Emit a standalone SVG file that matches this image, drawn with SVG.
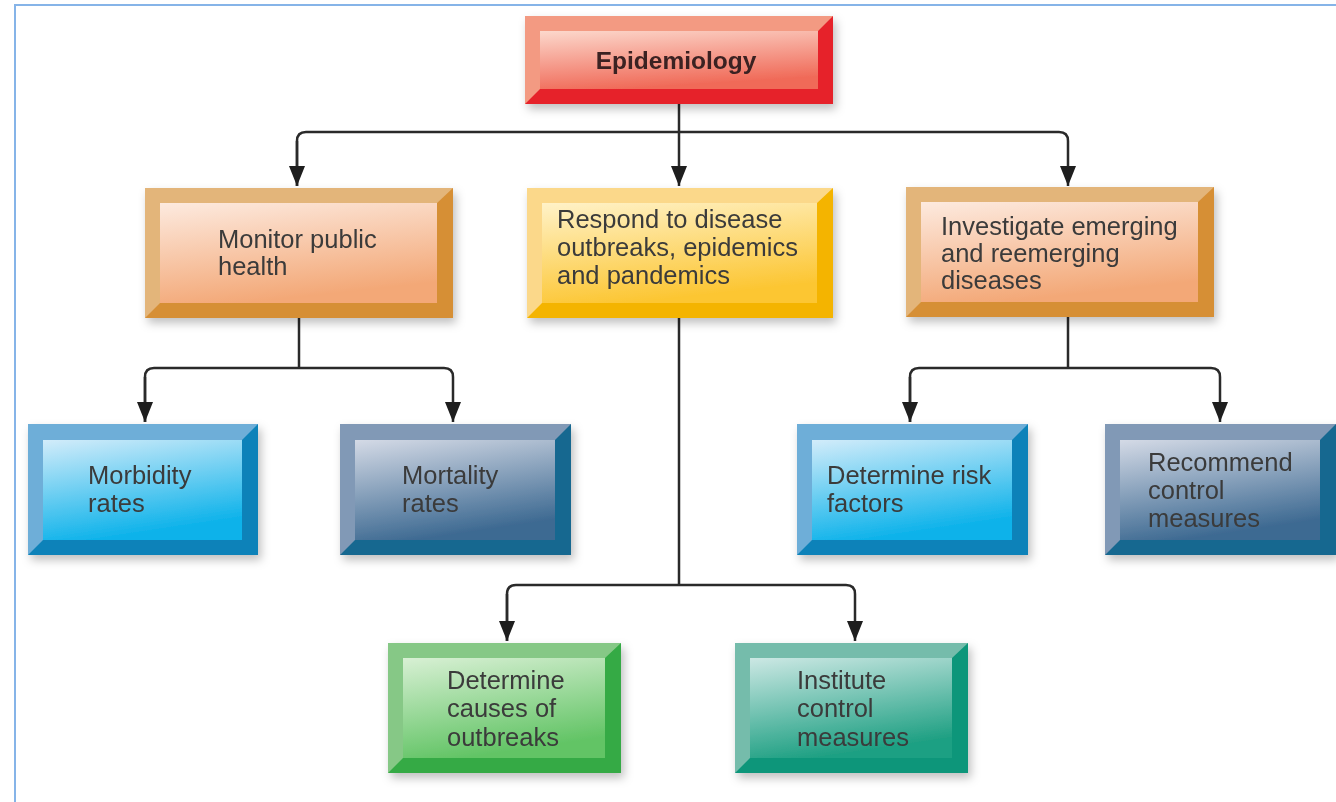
<svg xmlns="http://www.w3.org/2000/svg" width="1336" height="802" viewBox="0 0 1336 802">
<defs>
<style>
.t{font-family:"Liberation Sans",Arial,sans-serif;font-size:25.5px;fill:#3a3a3a}
.tb{font-family:"Liberation Sans",Arial,sans-serif;font-size:24.5px;font-weight:bold;fill:#3a2222}
.c{fill:none;stroke:#2a2a2a;stroke-width:2.5}
</style>
<filter id="sh" x="-10%" y="-10%" width="130%" height="140%"><feDropShadow dx="3" dy="5" stdDeviation="5" flood-color="#000" flood-opacity="0.25"/></filter>
<marker id="ah" viewBox="0 0 20 16" refX="20" refY="8" markerWidth="20" markerHeight="16" markerUnits="userSpaceOnUse" orient="auto"><path d="M0,0 L20,8 L0,16 z" fill="#1e1e1e"/></marker>
<linearGradient id="gRed" x1="0" y1="0" x2="0.3" y2="1"><stop offset="0" stop-color="#fcd8cc"/><stop offset="1" stop-color="#f06a58"/></linearGradient>
<linearGradient id="gOr" x1="0" y1="0" x2="0.3" y2="1"><stop offset="0" stop-color="#fdeadf"/><stop offset="1" stop-color="#f3a877"/></linearGradient>
<linearGradient id="gYe" x1="0" y1="0" x2="0.3" y2="1"><stop offset="0" stop-color="#fff2c8"/><stop offset="1" stop-color="#fcc633"/></linearGradient>
<linearGradient id="gBl" x1="0" y1="0" x2="0.3" y2="1"><stop offset="0" stop-color="#d2ecfa"/><stop offset="1" stop-color="#0cb2ea"/></linearGradient>
<linearGradient id="gSl" x1="0" y1="0" x2="0.3" y2="1"><stop offset="0" stop-color="#d4dae6"/><stop offset="1" stop-color="#3e6a92"/></linearGradient>
<linearGradient id="gGr" x1="0" y1="0" x2="0.3" y2="1"><stop offset="0" stop-color="#d8f0d4"/><stop offset="1" stop-color="#62c465"/></linearGradient>
<linearGradient id="gTe" x1="0" y1="0" x2="0.3" y2="1"><stop offset="0" stop-color="#cce8e4"/><stop offset="1" stop-color="#1fa083"/></linearGradient>
</defs>
<rect x="0" y="0" width="1336" height="802" fill="#ffffff"/>
<path d="M15 802 V5 H1336" fill="none" stroke="#86b4e8" stroke-width="2"/>

<g id="connectors">
<path class="c" d="M679 104 V132"/>
<path class="c" marker-end="url(#ah)" d="M297 186 V141 Q297 132 306 132 H1059 Q1068 132 1068 141 V186"/>
<path class="c" marker-end="url(#ah)" d="M679 132 V186"/>
<path class="c" marker-end="url(#ah)" d="M297 141 V186"/>
<path class="c" d="M299 318 V368"/>
<path class="c" marker-end="url(#ah)" d="M145 422 V377 Q145 368 154 368 H444 Q453 368 453 377 V422"/>
<path class="c" marker-end="url(#ah)" d="M145 377 V422"/>
<path class="c" d="M679 318 V585"/>
<path class="c" marker-end="url(#ah)" d="M507 641 V594 Q507 585 516 585 H846 Q855 585 855 594 V641"/>
<path class="c" marker-end="url(#ah)" d="M507 594 V641"/>
<path class="c" d="M1068 317 V368"/>
<path class="c" marker-end="url(#ah)" d="M910 422 V377 Q910 368 919 368 H1211 Q1220 368 1220 377 V422"/>
<path class="c" marker-end="url(#ah)" d="M910 377 V422"/>
</g>

<g id="epidemiology" filter="url(#sh)">
<rect x="525" y="16" width="308" height="88" fill="#f39a82"/>
<polygon points="833,16 833,104 525,104 540,89 818,89 818,31" fill="#e6202a"/>
<rect x="540" y="31" width="278" height="58" fill="url(#gRed)"/>
<text class="tb" x="676" y="69" text-anchor="middle">Epidemiology</text>
</g>

<g id="monitor" filter="url(#sh)">
<rect x="145" y="188" width="308" height="130" fill="#e3b57a"/>
<polygon points="453,188 453,318 145,318 160,303 437,303 437,203" fill="#d68f36"/>
<rect x="160" y="203" width="277" height="100" fill="url(#gOr)"/>
<text class="t" x="218" y="248">Monitor public</text>
<text class="t" x="218" y="275">health</text>
</g>

<g id="respond" filter="url(#sh)">
<rect x="527" y="188" width="306" height="130" fill="#fbd88a"/>
<polygon points="833,188 833,318 527,318 542,303 817,303 817,203" fill="#f4b400"/>
<rect x="542" y="203" width="275" height="100" fill="url(#gYe)"/>
<text class="t" x="557" y="228">Respond to disease</text>
<text class="t" x="557" y="256">outbreaks, epidemics</text>
<text class="t" x="557" y="284">and pandemics</text>
</g>

<g id="investigate" filter="url(#sh)">
<rect x="906" y="187" width="308" height="130" fill="#e3b57a"/>
<polygon points="1214,187 1214,317 906,317 921,302 1198,302 1198,202" fill="#d68f36"/>
<rect x="921" y="202" width="277" height="100" fill="url(#gOr)"/>
<text class="t" x="941" y="235">Investigate emerging</text>
<text class="t" x="941" y="262">and reemerging</text>
<text class="t" x="941" y="289">diseases</text>
</g>

<g id="morbidity" filter="url(#sh)">
<rect x="28" y="424" width="230" height="131" fill="#6eaed8"/>
<polygon points="258,424 258,555 28,555 43,540 242,540 242,440" fill="#0a82b9"/>
<rect x="43" y="440" width="199" height="100" fill="url(#gBl)"/>
<text class="t" x="88" y="484">Morbidity</text>
<text class="t" x="88" y="512">rates</text>
</g>

<g id="mortality" filter="url(#sh)">
<rect x="340" y="424" width="231" height="131" fill="#8199b6"/>
<polygon points="571,424 571,555 340,555 355,540 555,540 555,440" fill="#176890"/>
<rect x="355" y="440" width="200" height="100" fill="url(#gSl)"/>
<text class="t" x="402" y="484">Mortality</text>
<text class="t" x="402" y="512">rates</text>
</g>

<g id="risk" filter="url(#sh)">
<rect x="797" y="424" width="231" height="131" fill="#6eaed8"/>
<polygon points="1028,424 1028,555 797,555 812,540 1012,540 1012,440" fill="#0a82b9"/>
<rect x="812" y="440" width="200" height="100" fill="url(#gBl)"/>
<text class="t" x="827" y="484">Determine risk</text>
<text class="t" x="827" y="512">factors</text>
</g>

<g id="recommend" filter="url(#sh)">
<rect x="1105" y="424" width="231" height="131" fill="#8199b6"/>
<polygon points="1336,424 1336,555 1105,555 1120,540 1320,540 1320,440" fill="#176890"/>
<rect x="1120" y="440" width="200" height="100" fill="url(#gSl)"/>
<text class="t" x="1148" y="471">Recommend</text>
<text class="t" x="1148" y="499">control</text>
<text class="t" x="1148" y="527">measures</text>
</g>

<g id="causes" filter="url(#sh)">
<rect x="388" y="643" width="233" height="130" fill="#86c886"/>
<polygon points="621,643 621,773 388,773 403,758 605,758 605,658" fill="#34aa44"/>
<rect x="403" y="658" width="202" height="100" fill="url(#gGr)"/>
<text class="t" x="447" y="689">Determine</text>
<text class="t" x="447" y="717">causes of</text>
<text class="t" x="447" y="746">outbreaks</text>
</g>

<g id="institute" filter="url(#sh)">
<rect x="735" y="643" width="233" height="130" fill="#74bcab"/>
<polygon points="968,643 968,773 735,773 750,758 952,758 952,658" fill="#0f967a"/>
<rect x="750" y="658" width="202" height="100" fill="url(#gTe)"/>
<text class="t" x="797" y="689">Institute</text>
<text class="t" x="797" y="717">control</text>
<text class="t" x="797" y="746">measures</text>
</g>
</svg>
